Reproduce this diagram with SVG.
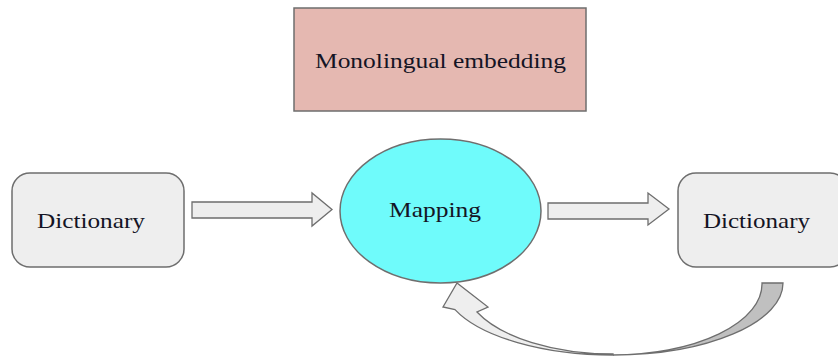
<svg xmlns="http://www.w3.org/2000/svg" width="838" height="359" viewBox="0 0 838 359">
  <style>
    .lbl { font-family: "Liberation Serif", "Times New Roman", serif; font-size: 21px; fill: #141424; }
    .box { fill: #eeeeee; stroke: #6e6e6e; stroke-width: 1.5; }
    .blk { fill: #eeeeee; stroke: #6e6e6e; stroke-width: 1.3; stroke-linejoin: miter; }
  </style>
  <rect width="838" height="359" fill="#ffffff"/>

  <g id="monolingual-embedding">
    <rect x="294" y="8" width="292" height="103" fill="#e5b8b1" stroke="#6e6e6e" stroke-width="1.5"/>
    <text class="lbl" x="315" y="68" textLength="251" lengthAdjust="spacingAndGlyphs">Monolingual embedding</text>
  </g>

  <g id="dictionary-source">
    <rect class="box" x="12" y="173" width="172" height="94" rx="18"/>
    <text class="lbl" x="37" y="228" textLength="108" lengthAdjust="spacingAndGlyphs">Dictionary</text>
  </g>

  <g id="mapping">
    <ellipse cx="440.5" cy="211" rx="100.5" ry="72" fill="#6ffbfb" stroke="#6e6e6e" stroke-width="1.5"/>
    <text class="lbl" x="389" y="217" textLength="92" lengthAdjust="spacingAndGlyphs">Mapping</text>
  </g>

  <g id="dictionary-target">
    <rect class="box" x="678" y="173" width="170" height="94" rx="18"/>
    <text class="lbl" x="703" y="228" textLength="107" lengthAdjust="spacingAndGlyphs">Dictionary</text>
  </g>

  <g id="connectors">
    <!-- block arrow: source dictionary to mapping -->
    <path class="blk" d="M192,202 L312,202 L312,193 L332,209.5 L312,226 L312,218 L192,218 Z"/>
    <!-- block arrow: mapping to target dictionary -->
    <path class="blk" d="M548,203 L648,203 L648,193 L669,209 L648,225 L648,219 L548,219 Z"/>
    <!-- curved feedback arrow: shaded back face (right half of the band) -->
    <path d="M762,283 L783,283 A170,72 0 0 1 613,355 A149,71 0 0 0 762,283 Z" fill="#c0c0c0" stroke="#6e6e6e" stroke-width="1.3"/>
    <!-- curved feedback arrow: front face with arrowhead -->
    <path class="blk" d="M613,355 A170,72 0 0 1 455,309.6 L443,307 L457,283 L488,307 L477,312 A149,71 0 0 0 613,354 Z"/>
  </g>
</svg>
